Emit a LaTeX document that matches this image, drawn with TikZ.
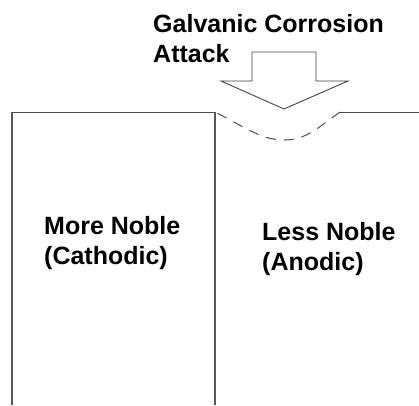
\documentclass[tikz,border=0pt]{standalone}
\usepackage{fontspec}
\setmainfont{Liberation Sans}
\tikzset{
  metal/.style={draw=black!65, line width=1.3pt},
  edge/.style={draw=black!70, line width=1pt},
  label/.style={font=\bfseries\fontsize{25}{30}\selectfont, anchor=base west, inner sep=0pt, align=left, text=black},
  attackarrow/.style={draw=black!75, line width=0.9pt, fill=white, line join=miter}
}
\begin{document}
\begin{tikzpicture}[x=1pt, y=-1pt]
\useasboundingbox (0,0) rectangle (419,405);
% metal outlines
\draw[edge] (12,112) -- (215,112);
\draw[edge] (340,112) -- (419,112);
\draw[metal] (12,112) -- (12,405);
\draw[metal] (215,112) -- (215,405);
% corroded surface
\draw[edge, dash pattern=on 10pt off 8pt, dash phase=-3pt]
  (215,112) .. controls (250,130) and (262,140) .. (285,140)
  .. controls (305,140) and (318,128) .. (340,112);
% attack arrow
\draw[attackarrow] (252,52) -- (316,52) -- (316,81) -- (348,81) -- (284,109) -- (221,81) -- (252,81) -- cycle;
% texts (base anchor = baseline of last line)
\node[label] (attack) at (153,62) {Galvanic Corrosion\\Attack};
\node[label] (noble) at (44,264) {More Noble\\(Cathodic)};
\node[label] (less) at (262,270) {Less Noble\\(Anodic)};
\end{tikzpicture}
\end{document}
